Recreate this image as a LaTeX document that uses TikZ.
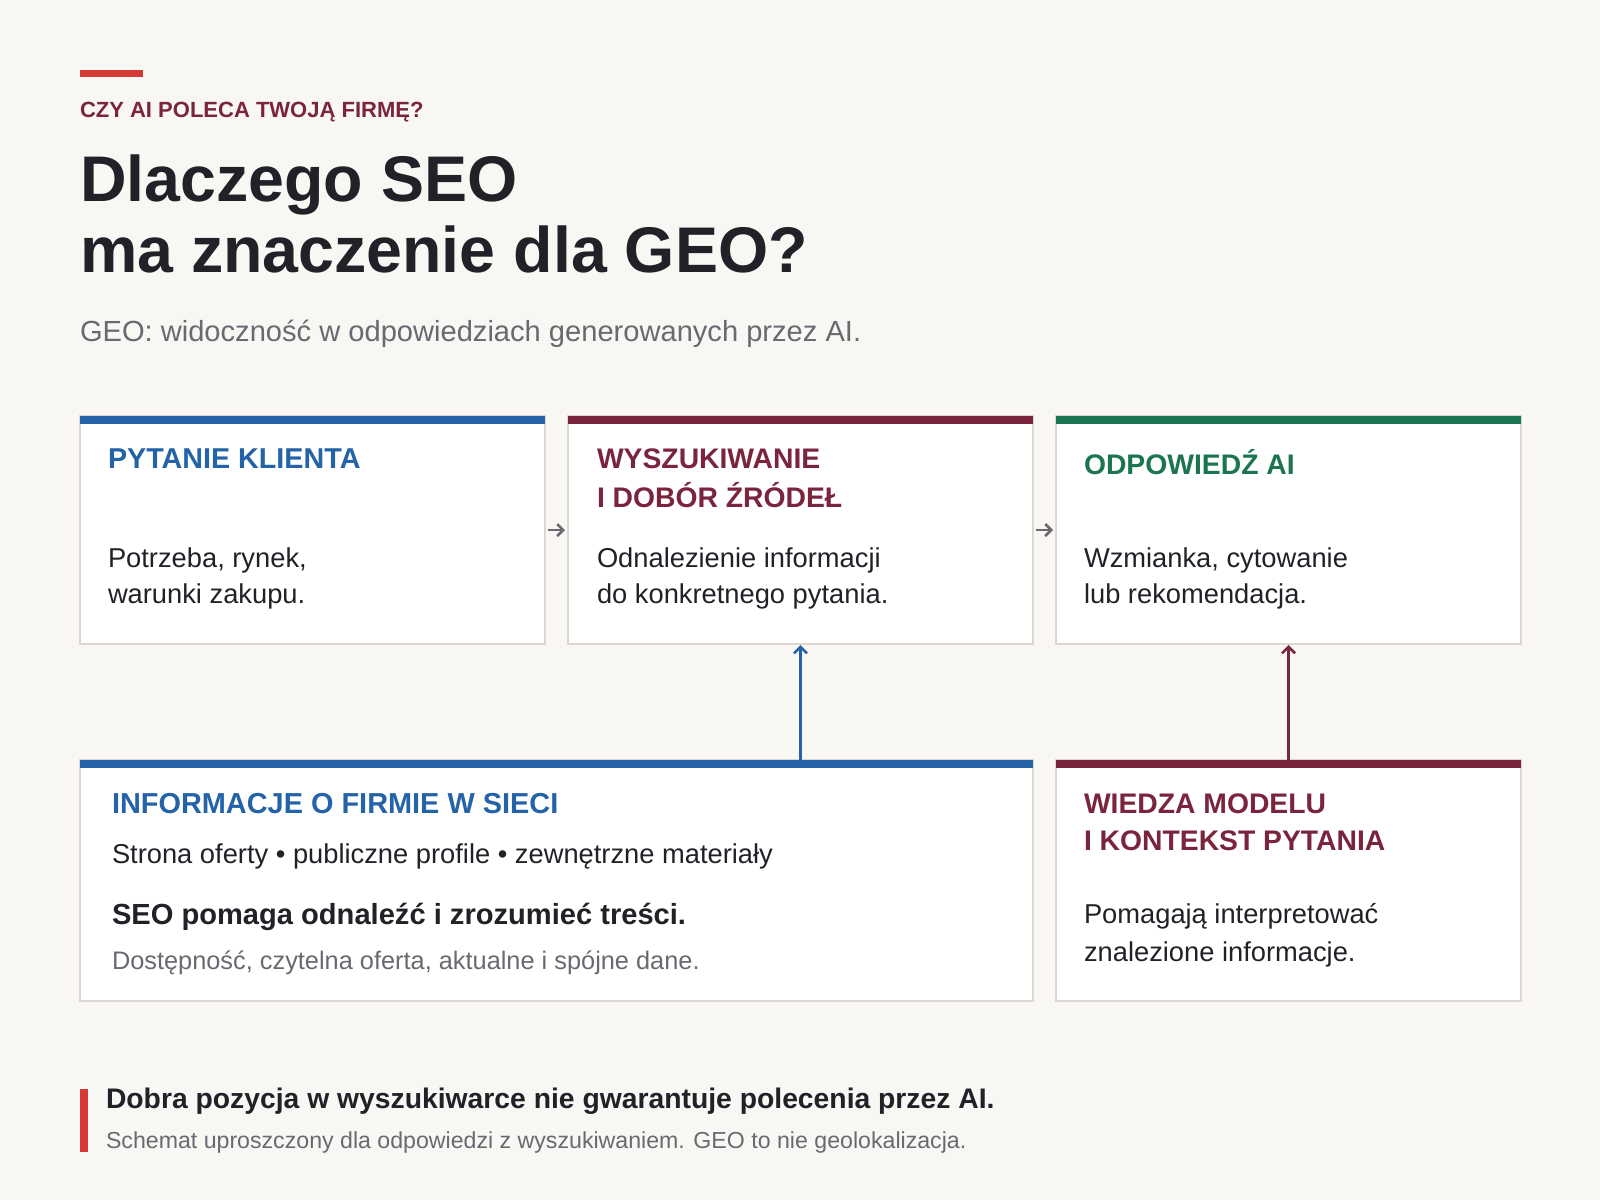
\documentclass[tikz,border=0pt]{standalone}
\usepackage{fontspec}
\setmainfont{Liberation Sans}
\usetikzlibrary{arrows.meta}
\definecolor{bg}{HTML}{F8F7F4}
\definecolor{ink}{HTML}{222128}
\definecolor{muted}{HTML}{6B6870}
\definecolor{cblue}{HTML}{2563A8}
\definecolor{cmaroon}{HTML}{7A243D}
\definecolor{cgreen}{HTML}{1B7550}
\definecolor{cred}{HTML}{D63A36}
\definecolor{edge}{HTML}{DCD8D0}
\newcommand{\pxsize}[1]{\fontsize{#1}{#1}\selectfont}
\tikzset{
  card/.style={draw=edge, line width=2pt, fill=white, minimum width=465pt,
    minimum height=228pt, inner sep=0pt, outer sep=0pt, anchor=north west},
  txt/.style={anchor=base west, inner sep=0pt, outer sep=0pt},
  cardtitle/.style={txt, font=\pxsize{28.3}\bfseries},
  cardbody/.style={txt, text=ink, font=\pxsize{27.3}},
  garrow/.style={draw=muted, line width=2.5pt, -{Straight Barb[length=6pt,width=12pt,line width=2.5pt]},
    shorten <=3pt, shorten >=3pt},
  varrow/.style={line width=2.5pt, -{Straight Barb[length=6.5pt,width=13pt,line width=2.5pt]}, shorten >=1pt}
}
\begin{document}
\begin{tikzpicture}[x=1pt,y=-1pt]
\fill[bg] (0,0) rectangle (1600,1200);
\useasboundingbox (0,0) rectangle (1600,1200);

% header
\fill[cred] (80,70) rectangle (143,77);
\node[txt, text=cmaroon, font=\pxsize{22}\bfseries] (kicker) at (80,117.5) {CZY AI POLECA TWOJĄ FIRMĘ?};
\node[txt, text=ink, font=\pxsize{64.5}\bfseries] (title1) at (80,201) {Dlaczego SEO};
\node[txt, text=ink, font=\pxsize{64.5}\bfseries] (title2) at (80,272) {ma znaczenie dla GEO?};
\node[txt, text=muted, font=\pxsize{29.1}] (sub) at (80,341) {GEO: widoczność w odpowiedziach generowanych przez AI.};

% top cards
\node[card] (b1) at (80,416) {};
\node[card] (b2) at (568,416) {};
\node[card] (b3) at (1056,416) {};
\fill[cblue] (b1.north west) rectangle ([yshift=-8pt]b1.north east);
\fill[cmaroon] (b2.north west) rectangle ([yshift=-8pt]b2.north east);
\fill[cgreen] (b3.north west) rectangle ([yshift=-8pt]b3.north east);

\node[cardtitle, text=cblue, font=\pxsize{28.7}\bfseries] (t1) at (108,468) {PYTANIE KLIENTA};
\node[cardbody] (d1a) at (108,567) {Potrzeba, rynek,};
\node[cardbody] (d1b) at (108,603) {warunki zakupu.};

\node[cardtitle, text=cmaroon] (t2a) at (597,468) {WYSZUKIWANIE};
\node[cardtitle, text=cmaroon] (t2b) at (597,507) {I DOBÓR ŹRÓDEŁ};
\node[cardbody] (d2a) at (597,567) {Odnalezienie informacji};
\node[cardbody] (d2b) at (597,603) {do konkretnego pytania.};

\node[cardtitle, text=cgreen] (t3) at (1084,474.5) {ODPOWIEDŹ AI};
\node[cardbody] (d3a) at (1084,567) {Wzmianka, cytowanie};
\node[cardbody] (d3b) at (1084,603) {lub rekomendacja.};

% bottom cards
\node[card, minimum width=953pt, minimum height=241pt] (b4) at (80,760) {};
\node[card, minimum height=241pt] (b5) at (1056,760) {};
\fill[cblue] (b4.north west) rectangle ([yshift=-8pt]b4.north east);
\fill[cmaroon] (b5.north west) rectangle ([yshift=-8pt]b5.north east);

\node[cardtitle, text=cblue, font=\pxsize{28.9}\bfseries] (t4) at (112,813) {INFORMACJE O FIRMIE W SIECI};
\node[cardbody] (d4a) at (112,863) {Strona oferty • publiczne profile • zewnętrzne materiały};
\node[txt, text=ink, font=\pxsize{29.1}\bfseries] (d4b) at (112,924.5) {SEO pomaga odnaleźć i zrozumieć treści.};
\node[txt, text=muted, font=\pxsize{25.35}] (d4c) at (112,969.5) {Dostępność, czytelna oferta, aktualne i spójne dane.};

\node[cardtitle, text=cmaroon] (t5a) at (1084,813) {WIEDZA MODELU};
\node[cardtitle, text=cmaroon] (t5b) at (1084,850) {I KONTEKST PYTANIA};
\node[cardbody] (d5a) at (1084,923.5) {Pomagają interpretować};
\node[cardbody] (d5b) at (1084,961) {znalezione informacje.};

% connectors
\draw[garrow] (b1.east) -- (b2.west);
\draw[garrow] (b2.east) -- (b3.west);
\draw[varrow, cblue] (b2.south |- b4.north) -- (b2.south);
\draw[varrow, cmaroon] (b5.north) -- (b3.south);

% footer
\fill[cred] (80,1089) rectangle (88,1152);
\node[txt, text=ink, font=\pxsize{28.3}\bfseries] (f1) at (106,1108) {Dobra pozycja w wyszukiwarce nie gwarantuje polecenia przez AI.};
\node[txt, text=muted, font=\pxsize{23.15}] (f2) at (106,1148) {Schemat uproszczony dla odpowiedzi z wyszukiwaniem. GEO to nie geolokalizacja.};
\end{tikzpicture}
\end{document}
